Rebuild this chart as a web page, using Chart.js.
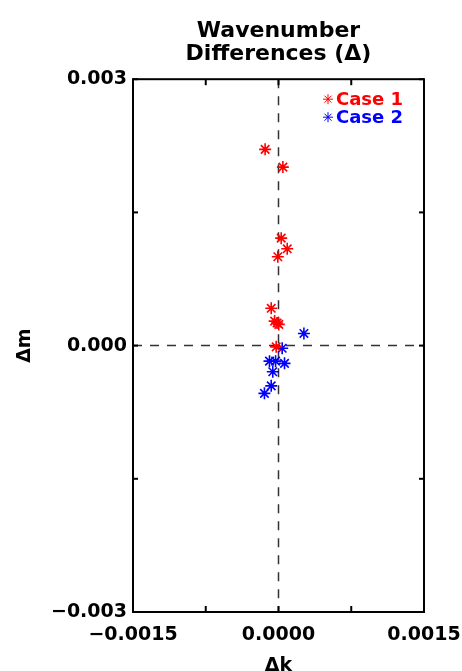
<!DOCTYPE html>
<html lang="en">
<head>
  <meta charset="UTF-8">
  <title>Wavenumber Differences</title>
  <script src="https://cdn.jsdelivr.net/npm/chart.js"></script>
  <style>
    html, body { margin: 0; padding: 0; background: #fff; }
    #wrap { width: 462px; height: 671px; }
  </style>
</head>
<body>
  <div id="wrap"><canvas id="scatter" width="462" height="671"></canvas></div>

  <script>
    // Case 1 (red) and Case 2 (blue): Δk, Δm pairs
    const case1K = [-0.000138, 0.000045, 0.000028, 0.00009, -0.000007, -0.000075, -0.00004, 0.000003, -0.000015, -0.000024];
    const case1M = [0.00221, 0.00201, 0.00121, 0.00109, 0.00100, 0.00042, 0.000276, 0.000239, 0.000255, -0.000014];
    const case2K = [0.000262, 0.000038, -0.000093, -0.00003, 0.000062, -0.000059, -0.000075, -0.000145];
    const case2M = [0.000137, -0.00003, -0.000175, -0.000175, -0.0002, -0.000295, -0.000453, -0.000538];

    const xTicks = [-0.0015, -0.00075, 0, 0.00075, 0.0015];
    const xLabels = ['\u22120.0015', '', '0.0000', '', '0.0015'];
    const yTicks = [-0.003, -0.0015, 0, 0.0015, 0.003];
    const yLabels = ['\u22120.003', '', '0.000', '', '0.003'];

    const seriesNames = ['Case 1', 'Case 2'];
    const seriesColors = ['#ff0000', '#0000ff'];

    const toPoints = (ks, ms) => ks.map((k, i) => ({x: k, y: ms[i]}));

    const tickFont = {family: 'DejaVu Sans', size: 19, weight: 'bold'};

    // dashed zero lines, box frame and inward tick marks
    const framePlugin = {
      id: 'frame',
      beforeDatasetsDraw(chart) {
        const {ctx, chartArea: a, scales: {x, y}} = chart;
        const line = (x1, y1, x2, y2) => { ctx.beginPath(); ctx.moveTo(x1, y1); ctx.lineTo(x2, y2); ctx.stroke(); };
        ctx.save();
        ctx.strokeStyle = '#333';
        ctx.lineWidth = 1.5;
        ctx.setLineDash([9, 8]);
        const x0 = x.getPixelForValue(0), y0 = y.getPixelForValue(0);
        line(x0, a.top, x0, a.bottom);
        line(a.left, y0, a.right, y0);
        ctx.setLineDash([]);
        ctx.strokeStyle = '#000';
        ctx.lineWidth = 2;
        ctx.strokeRect(a.left, a.top, a.right - a.left, a.bottom - a.top);
        xTicks.forEach(v => {
          const px = x.getPixelForValue(v);
          line(px, a.bottom, px, a.bottom - 6);
          line(px, a.top, px, a.top + 6);
        });
        yTicks.forEach(v => {
          const py = y.getPixelForValue(v);
          line(a.left, py, a.left + 5, py);
          line(a.right, py, a.right - 5, py);
        });
        ctx.restore();
      },
      // legend in the upper right corner of the box
      afterDraw(chart) {
        const {ctx, chartArea: a} = chart;
        ctx.save();
        ctx.font = 'bold 18px "DejaVu Sans"';
        ctx.textBaseline = 'middle';
        ctx.textAlign = 'left';
        chart.data.datasets.forEach((ds, i) => {
          const cy = a.top + 20 + i * 18;
          const cx = a.right - 96;
          ctx.strokeStyle = ds.borderColor;
          ctx.fillStyle = ds.borderColor;
          Chart.helpers.drawPoint(ctx, {pointStyle: 'star', radius: 5, borderWidth: 1.5}, cx, cy);
          ctx.fillText(ds.label, cx + 8, cy + 1);
        });
        ctx.restore();
      }
    };

    new Chart(document.getElementById('scatter'), {
      type: 'scatter',
      data: {
        datasets: [
          {
            label: seriesNames[0],
            data: toPoints(case1K, case1M),
            pointStyle: 'star',
            radius: 6,
            borderWidth: 1.6,
            borderColor: seriesColors[0],
            backgroundColor: seriesColors[0]
          },
          {
            label: seriesNames[1],
            data: toPoints(case2K, case2M),
            pointStyle: 'star',
            radius: 6,
            borderWidth: 1.6,
            borderColor: seriesColors[1],
            backgroundColor: seriesColors[1]
          }
        ]
      },
      options: {
        responsive: false,
        animation: false,
        layout: {padding: {left: 0, right: 38, top: 0, bottom: 0}},
        plugins: {
          legend: {display: false},
          tooltip: {enabled: false},
          title: {
            display: true,
            fullSize: false,
            text: ['Wavenumber', 'Differences (\u0394)'],
            color: '#000',
            font: {family: 'DejaVu Sans', size: 22, weight: 'bold', lineHeight: 1.05},
            padding: {top: 20, bottom: 13}
          }
        },
        scales: {
          x: {
            type: 'linear',
            min: -0.0015,
            max: 0.0015,
            grid: {display: false, drawTicks: false},
            border: {display: false},
            afterBuildTicks: s => { s.ticks = xTicks.map(v => ({value: v})); },
            afterFit: s => { s.height = 59; s.paddingLeft = 0; s.paddingRight = 0; },
            ticks: {
              color: '#000',
              font: tickFont,
              padding: 12,
              maxRotation: 0,
              autoSkip: false,
              callback: v => xLabels[xTicks.indexOf(v)]
            },
            title: {
              display: true,
              text: '\u0394k',
              color: '#000',
              font: {family: 'DejaVu Sans', size: 19, weight: 'bold', lineHeight: 0.5},
              padding: {top: 0, bottom: 0}
            }
          },
          y: {
            type: 'linear',
            min: -0.003,
            max: 0.003,
            grid: {display: false, drawTicks: false},
            border: {display: false},
            afterBuildTicks: s => { s.ticks = yTicks.map(v => ({value: v})); },
            afterFit: s => { s.width = 133; },
            ticks: {
              color: '#000',
              font: tickFont,
              padding: 6,
              autoSkip: false,
              callback: v => yLabels[yTicks.indexOf(v)]
            },
            title: {
              display: true,
              text: '\u0394m',
              color: '#000',
              font: {family: 'DejaVu Sans', size: 19, weight: 'bold', lineHeight: 1.2},
              padding: {top: 14, bottom: 0}
            }
          }
        }
      },
      plugins: [framePlugin]
    });
  </script>
</body>
</html>
